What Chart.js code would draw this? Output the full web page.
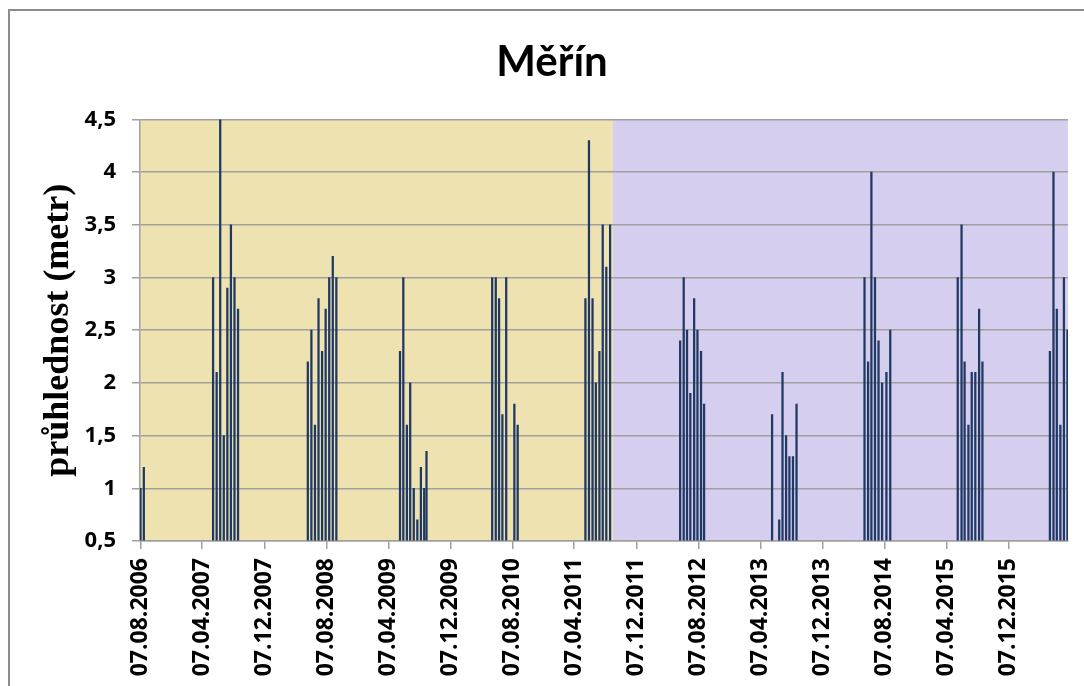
<!DOCTYPE html>
<html>
<head>
<meta charset="utf-8">
<script src="https://cdn.jsdelivr.net/npm/chart.js@4"></script>
<style>
  body { margin: 0; background: #fff; }
  #wrap { position: relative; width: 1084px; height: 686px; overflow: hidden; }
  #frame { position: absolute; left: 8px; top: 9px; width: 1100px; height: 700px; border: 2px solid #8c8c8c; pointer-events: none; }
</style>
</head>
<body>
<div id="wrap">
  <canvas id="chart" width="1084" height="686"></canvas>
  <div id="frame"></div>
</div>
<script>
// measurement dates and transparency values (m)
const dates = [
	'2006-08-08', '2006-08-21',
	'2007-05-20', '2007-06-03', '2007-06-17', '2007-07-01', '2007-07-15', '2007-07-29', '2007-08-12', '2007-08-26',
	'2008-05-26', '2008-06-09', '2008-06-23', '2008-07-07', '2008-07-21', '2008-08-04', '2008-08-18', '2008-09-01', '2008-09-15',
	'2009-05-23', '2009-06-05', '2009-06-19', '2009-07-02', '2009-07-16', '2009-07-30', '2009-08-13', '2009-08-26', '2009-09-04',
	'2010-05-20', '2010-06-03', '2010-06-16', '2010-06-29', '2010-07-14', '2010-08-15', '2010-08-28',
	'2011-05-21', '2011-06-04', '2011-06-18', '2011-07-01', '2011-07-15', '2011-07-28', '2011-08-11', '2011-08-26',
	'2012-05-27', '2012-06-10', '2012-06-23', '2012-07-06', '2012-07-21', '2012-08-03', '2012-08-17', '2012-08-29',
	'2013-05-23', '2013-06-20', '2013-07-03', '2013-07-17', '2013-07-30', '2013-08-13', '2013-08-27',
	'2014-05-21', '2014-06-04', '2014-06-17', '2014-07-01', '2014-07-15', '2014-07-29', '2014-08-15', '2014-08-30',
	'2015-05-22', '2015-06-06', '2015-06-18', '2015-07-03', '2015-07-16', '2015-07-30', '2015-08-14', '2015-08-27',
	'2016-05-18', '2016-06-01', '2016-06-14', '2016-06-28', '2016-07-12', '2016-07-26',
];
const values = [
	1.0, 1.2,
	3.0, 2.1, 4.5, 1.5, 2.9, 3.5, 3.0, 2.7,
	2.2, 2.5, 1.6, 2.8, 2.3, 2.7, 3.0, 3.2, 3.0,
	2.3, 3.0, 1.6, 2.0, 1.0, 0.7, 1.2, 1.0, 1.35,
	3.0, 3.0, 2.8, 1.7, 3.0, 1.8, 1.6,
	2.8, 4.3, 2.8, 2.0, 2.3, 3.5, 3.1, 3.5,
	2.4, 3.0, 2.5, 1.9, 2.8, 2.5, 2.3, 1.8,
	1.7, 0.7, 2.1, 1.5, 1.3, 1.3, 1.8,
	3.0, 2.2, 4.0, 3.0, 2.4, 2.0, 2.1, 2.5,
	3.0, 3.5, 2.2, 1.6, 2.1, 2.1, 2.7, 2.2,
	2.3, 4.0, 2.7, 1.6, 3.0, 2.5,
];
const tickLabels = [
	'07.08.2006', '07.04.2007', '07.12.2007', '07.08.2008', '07.04.2009',
	'07.12.2009', '07.08.2010', '07.04.2011', '07.12.2011', '07.08.2012',
	'07.04.2013', '07.12.2013', '07.08.2014', '07.04.2015', '07.12.2015',
];
const axisStart = '2006-08-06';
const axisEnd = '2016-07-28';
const periodSplit = '2011-09-06'; // yellow period / purple period

const day = (s) => {
	const [y, m, d] = s.split('-').map(Number);
	return Date.UTC(y, m - 1, d) / 86400000;
};
const dayFromLabel = (t) => {
	const [d, m, y] = t.split('.');
	return day(`${y}-${m}-${d}`);
};

const periodBackground = {
	id: 'periodBackground',
	beforeDraw(chart) {
		const { ctx, chartArea: a, scales } = chart;
		const split = scales.x.getPixelForValue(day(periodSplit));
		ctx.save();
		ctx.fillStyle = '#EEE3B0';
		ctx.fillRect(a.left, a.top, split - a.left, a.bottom - a.top);
		ctx.fillStyle = '#D5CEEE';
		ctx.fillRect(split, a.top, a.right - split, a.bottom - a.top);
		ctx.restore();
	},
};

const grey = '#a0a0a0';

new Chart(document.getElementById('chart'), {
	type: 'bar',
	data: {
		datasets: [
			{
				data: dates.map((d, i) => ({ x: day(d), y: values[i] })),
				backgroundColor: '#1F3864',
				barThickness: 1.6,
				base: 0.5,
			},
		],
	},
	options: {
		responsive: false,
		animation: false,
		layout: { padding: { left: 36, right: 16, top: 0, bottom: 0 } },
		plugins: {
			legend: { display: false },
			tooltip: { enabled: false },
			title: {
				display: true,
				text: 'Měřín',
				color: '#000',
				font: { family: 'Lato', weight: 'bold', size: 42 },
				padding: { top: 37, bottom: 32 },
			},
		},
		scales: {
			x: {
				type: 'linear',
				min: day(axisStart),
				max: day(axisEnd),
				offset: false,
				afterBuildTicks: (s) => {
					s.ticks = tickLabels.map((t) => ({ value: dayFromLabel(t) }));
				},
				afterFit: (s) => {
					s.height = 145;
				},
				ticks: {
					autoSkip: false,
					minRotation: 90,
					maxRotation: 90,
					padding: 9,
					color: '#000',
					font: { family: 'Open Sans', weight: 'bold', size: 23 },
					callback: (v, i) => tickLabels[i],
				},
				grid: { drawOnChartArea: false, offset: false, tickLength: 8, color: grey, lineWidth: 1.5 },
				border: { color: grey, width: 1.5 },
			},
			y: {
				min: 0.5,
				max: 4.5,
				afterFit: (s) => {
					s.width = 104;
				},
				ticks: {
					stepSize: 0.5,
					padding: 16,
					color: '#000',
					font: { family: 'Open Sans', weight: 'bold', size: 22 },
					callback: (v) => String(v).replace('.', ','),
				},
				grid: { color: grey, lineWidth: 1.5, tickLength: 8 },
				border: { color: grey, width: 1.5 },
				title: {
					display: true,
					text: 'průhlednost (metr)',
					color: '#000',
					font: { family: 'Liberation Serif', weight: 'bold', size: 36 },
					padding: { top: 1, bottom: 0 },
				},
			},
		},
	},
	plugins: [periodBackground],
});
</script>
</body>
</html>
